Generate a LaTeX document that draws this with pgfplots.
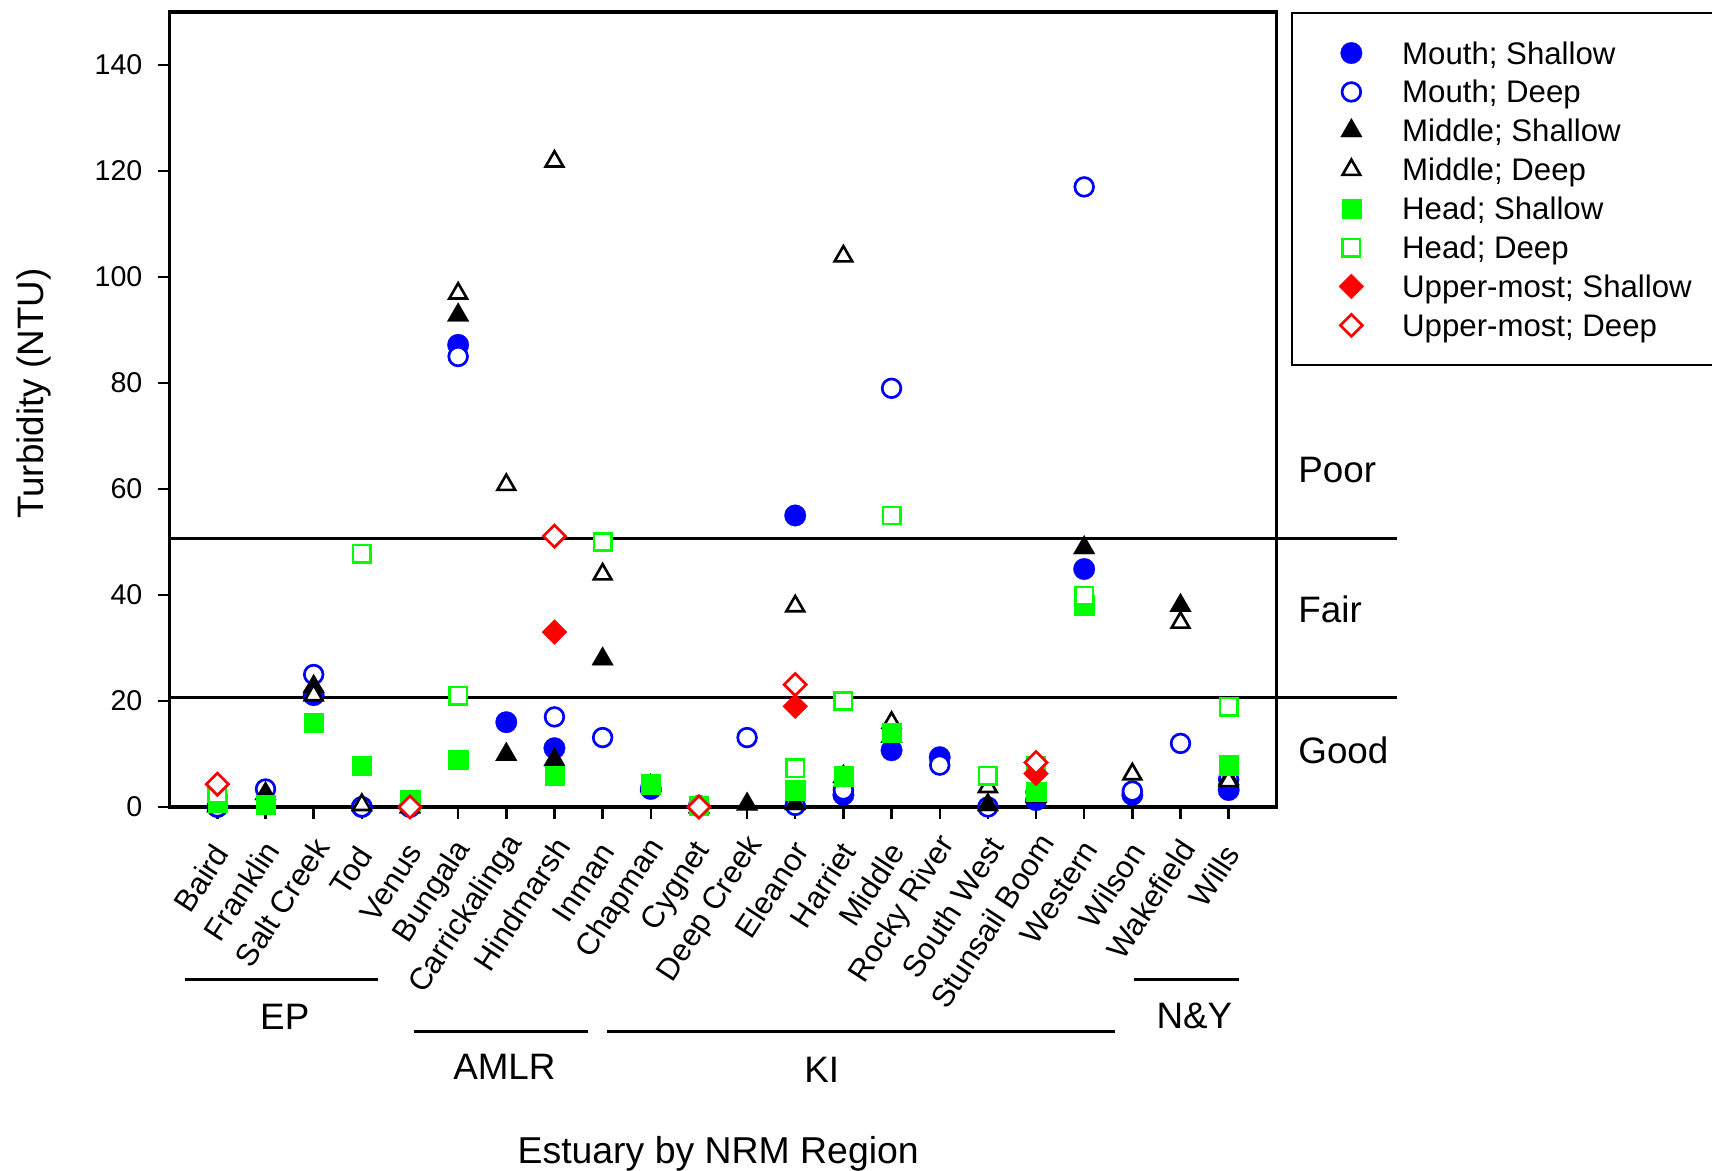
\documentclass[border=0pt]{standalone}
\usepackage{fontspec}
\setmainfont{Liberation Sans}
\usepackage{pgfplots}
\pgfplotsset{compat=1.18}
\definecolor{mblue}{RGB}{0,0,255}
\definecolor{mgreen}{RGB}{0,255,0}
\definecolor{mred}{RGB}{255,0,0}
\newcommand{\tl}[1]{\makebox[0.9\width][l]{#1}}
\begin{document}
\begin{tikzpicture}
\useasboundingbox (0,0) rectangle (856pt,585.5pt);
\begin{axis}[
  at={(84.6pt,182pt)}, anchor=south west,
  scale only axis, width=553.8pt, height=397.5pt,
  xmin=0, xmax=23, ymin=0, ymax=150,
  clip=false,
  axis line style={line width=1.6pt},
  xtick={1,...,22},
  xticklabels={\tl{Baird},\tl{Franklin},\tl{Salt Creek},\tl{Tod},\tl{Venus},\tl{Bungala},\tl{Carrickalinga},\tl{Hindmarsh},\tl{Inman},\tl{Chapman},\tl{Cygnet},\tl{Deep Creek},\tl{Eleanor},\tl{Harriet},\tl{Middle},\tl{Rocky River},\tl{South West},\tl{Stunsail Boom},\tl{Western},\tl{Wilson},\tl{Wakefield},\tl{Wills}},
  ytick={0,20,...,140},
  tick align=outside,
  major tick length=5.8pt,
  tick style={black, line width=1.2pt},
  xtick pos=bottom, ytick pos=left,
  x tick label style={rotate=57, anchor=east, inner sep=0pt, font=\fontsize{15.5}{18}\selectfont},
  xticklabel shift=17.5pt,
  y tick label style={inner sep=0pt, font=\fontsize{14.3}{17}\selectfont},
  yticklabel shift=7.4pt,
  /pgf/number format/assume math mode=true,
  legend style={at={(1.0128,1)}, anchor=north west, draw=black, line width=1.2pt, fill=white,
    inner xsep=0pt, inner ysep=10.2pt, row sep=0pt, column sep=0pt,
    font=\fontsize{15.6}{18}\selectfont,
    nodes={inner sep=0pt, minimum height=19.45pt, text height=11pt, text depth=0pt}},
  legend cell align=left,
  legend image code/.code={\path (-29pt,0pt) (24.8pt,0pt); \draw[#1] plot coordinates {(0pt,0pt)};},
]
\draw[line width=1.4pt] (axis cs:0,50.6) -- (axis cs:25.49,50.6);
\draw[line width=1.4pt] (axis cs:0,20.7) -- (axis cs:25.49,20.7);

% Mouth; Shallow
\addplot[only marks, mblue, mark=*, mark size=5.4pt, mark options={line width=0.1pt}] coordinates {
(1,0) (3,21.1) (4,0) (5,0) (6,87.2) (7,16.0) (8,11.1) (10,3.4) (11,0.2) (13,55.0) (14,2.3) (15,10.7) (16,9.4) (18,1.3) (19,44.9) (20,2.3) (22,3.2)};
\addlegendentry{Mouth; Shallow}
% Mouth; Deep
\addplot[only marks, mblue, mark=*, mark size=4.67pt, mark options={fill=white, line width=1.35pt}] coordinates {
(1,0) (2,3.4) (3,25.0) (4,0) (6,85.0) (8,17.0) (9,13.1) (12,13.1) (13,0.3) (14,3.2) (15,79.0) (16,7.9) (17,0) (18,2.8) (19,117.0) (20,3.0) (21,12.0) (22,5.2)};
\addlegendentry{Mouth; Deep}
% Middle; Shallow
\addplot[only marks, black, mark=triangle*, mark size=6.27pt, mark options={line width=0.1pt}] coordinates {
(1,0.2) (2,2.5) (3,22.7) (5,0) (6,92.8) (7,9.9) (8,8.9) (9,27.9) (10,4.0) (11,0) (12,0.5) (13,0.6) (14,5.7) (15,13.3) (17,0.4) (18,2.0) (19,48.9) (21,38.0) (22,5.3)};
\addlegendentry{Middle; Shallow}
% Middle; Deep
\addplot[only marks, black, mark=triangle*, mark size=5.1pt, mark options={fill=white, line width=1.3pt}] coordinates {
(3,21.1) (4,0.4) (6,96.9) (7,60.8) (8,121.8) (9,43.9) (13,37.9) (14,103.9) (15,15.9) (17,3.8) (20,6.2) (21,34.8) (22,4.9)};
\addlegendentry{Middle; Deep}
% Head; Shallow
\addplot[only marks, mgreen, mark=square*, mark size=4.83pt, mark options={line width=0.1pt}] coordinates {
(1,0.8) (2,0.4) (3,15.9) (4,7.8) (5,1.3) (6,9.0) (8,5.9) (10,4.3) (11,0.2) (13,3.2) (14,5.8) (15,14.1) (18,2.9) (19,38.1) (22,7.9)};
\addlegendentry{Head; Shallow}
% Head; Deep
\addplot[only marks, mgreen, mark=square*, mark size=4.37pt, mark options={fill=white, line width=1.25pt}] coordinates {
(1,2.6) (4,47.8) (6,21.0) (9,50.0) (13,7.3) (14,20.0) (15,55.0) (17,5.9) (18,7.7) (19,39.9) (22,18.9)};
\addlegendentry{Head; Deep}
% Upper-most; Shallow
\addplot[only marks, mred, mark=square*, mark size=4.42pt, mark options={rotate=45, line width=0.1pt}] coordinates {
(8,33.0) (13,19.0) (18,6.3)};
\addlegendentry{Upper-most; Shallow\hspace*{30pt}}
% Upper-most; Deep
\addplot[only marks, mred, mark=square*, mark size=3.9pt, mark options={rotate=45, fill=white, line width=1.35pt}] coordinates {
(1,4.3) (5,0) (8,51.1) (11,0) (13,23.1) (18,8.4)};
\addlegendentry{Upper-most; Deep}

\node[anchor=west, inner sep=0pt, font=\fontsize{18.4}{22}\selectfont] at (axis cs:23.44,63.6) {Poor};
\node[anchor=west, inner sep=0pt, font=\fontsize{18.4}{22}\selectfont] at (axis cs:23.44,37.2) {Fair};
\node[anchor=west, inner sep=0pt, font=\fontsize{18.4}{22}\selectfont] at (axis cs:23.44,10.7) {Good};

\draw[line width=1.35pt] (axis cs:0.33,-32.6) -- (axis cs:4.33,-32.6);
\draw[line width=1.35pt] (axis cs:5.08,-42.3) -- (axis cs:8.70,-42.3);
\draw[line width=1.35pt] (axis cs:9.09,-42.3) -- (axis cs:19.63,-42.3);
\draw[line width=1.35pt] (axis cs:20.04,-32.6) -- (axis cs:22.21,-32.6);
\node[inner sep=0pt, font=\fontsize{18.4}{22}\selectfont] at (axis cs:2.40,-39.5) {EP};
\node[inner sep=0pt, font=\fontsize{18.4}{22}\selectfont] at (axis cs:6.96,-49.0) {AMLR};
\node[inner sep=0pt, font=\fontsize{18.4}{22}\selectfont] at (axis cs:13.55,-49.6) {KI};
\node[inner sep=0pt, font=\fontsize{18.4}{22}\selectfont] at (axis cs:21.29,-39.5) {N\&Y};
\node[inner sep=0pt, font=\fontsize{18.7}{22}\selectfont] at (axis cs:11.40,-65.4) {Estuary by NRM Region};
\node[inner sep=0pt, rotate=90, font=\fontsize{18.4}{22}\selectfont] at (axis cs:-2.80,78.0) {Turbidity (NTU)};
\end{axis}
\end{tikzpicture}
\end{document}
